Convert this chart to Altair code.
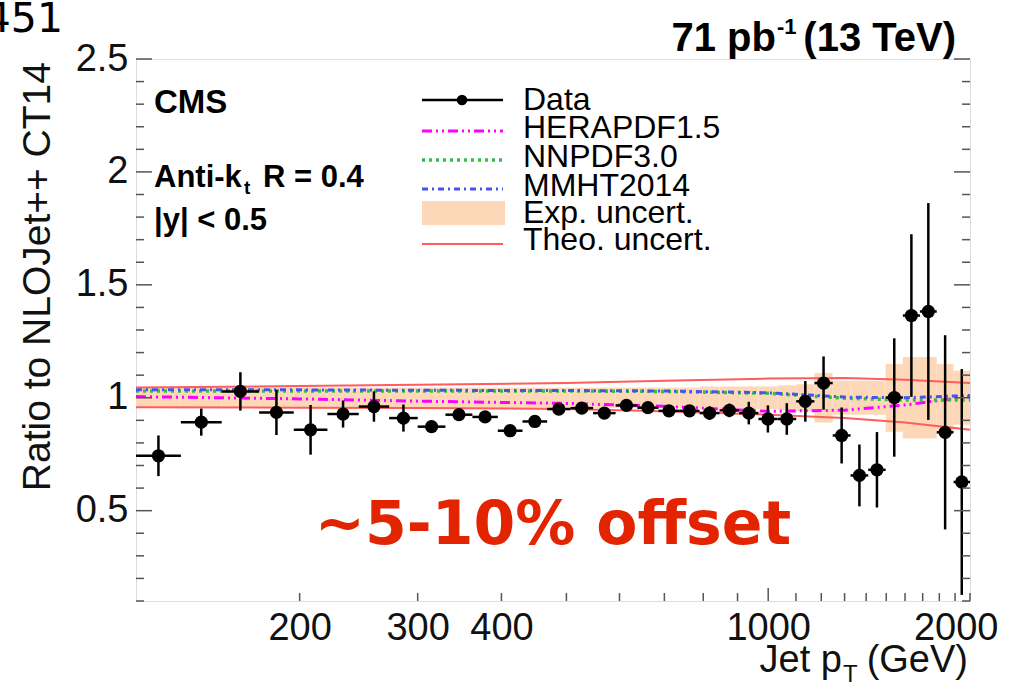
import math
import altair as alt
import pandas as pd

# ---------------- data ----------------
edges = [114, 133, 153, 174, 196, 220, 245, 272, 300, 330, 362, 395, 430, 468, 507,
         548, 592, 638, 686, 737, 790, 846, 905, 967, 1032, 1101, 1172, 1248, 1327,
         1410, 1497, 1588, 1684, 1784, 1890, 2000]
ratio = [0.743, 0.892, 1.028, 0.935, 0.858, 0.928, 0.961, 0.910, 0.872, 0.925,
         0.915, 0.854, 0.895, 0.950, 0.954, 0.932, 0.966, 0.956, 0.942, 0.942,
         0.932, 0.944, 0.932, 0.906, 0.906, 0.984, 1.065, 0.833, 0.656, 0.681,
         1.001, 1.364, 1.382, 0.847, 0.627]
stat_err = [0.09, 0.06, 0.085, 0.10, 0.11, 0.06, 0.067, 0.06, 0.015, 0.02,
            0.02, 0.02, 0.02, 0.02, 0.02, 0.02, 0.02, 0.02, 0.025, 0.025,
            0.03, 0.03, 0.05, 0.06, 0.07, 0.09, 0.118, 0.124, 0.137, 0.167,
            0.262, 0.36, 0.48, 0.43, 0.50]
exp_unc = [0.045, 0.045, 0.045, 0.045, 0.045, 0.045, 0.045, 0.045, 0.045, 0.045,
           0.045, 0.045, 0.045, 0.045, 0.045, 0.045, 0.045, 0.045, 0.045, 0.045,
           0.05, 0.05, 0.05, 0.05, 0.055, 0.06, 0.11, 0.075, 0.075, 0.075,
           0.15, 0.18, 0.18, 0.15, 0.12]

knots = [114, 200, 300, 500, 700, 1000, 1300, 1600, 2000]
herapdf = [1.005, 0.995, 0.985, 0.975, 0.962, 0.940, 0.945, 0.968, 1.005]
nnpdf = [1.030, 1.030, 1.030, 1.030, 1.028, 1.020, 0.998, 0.990, 0.990]
mmht = [1.035, 1.035, 1.033, 1.032, 1.030, 1.022, 1.003, 1.000, 1.010]
theo_up = [1.045, 1.052, 1.058, 1.065, 1.075, 1.085, 1.087, 1.080, 1.065]
theo_dn = [0.958, 0.956, 0.955, 0.950, 0.940, 0.925, 0.910, 0.890, 0.858]

y_labels = [0.5, 1.0, 1.5, 2.0, 2.5]
y_minor = [0.1, 0.2, 0.3, 0.4, 0.6, 0.7, 0.8, 0.9, 1.1, 1.2, 1.3, 1.4, 1.6, 1.7,
           1.8, 1.9, 2.1, 2.2, 2.3, 2.4]
x_labels = [200, 300, 400, 1000, 2000]
x_small = [200, 300, 400, 500, 600, 700, 800, 900, 1100, 1200, 1300, 1400, 1500,
           1600, 1700, 1800, 1900, 2000]
x_big = [1000]

# ---------------- layout ----------------
W, H = 834, 542
LEFT, TOP = 136, 59
FONT = "Liberation Sans"


def px(x):
    return x - LEFT


def py(y):
    return y - TOP


xs = alt.Scale(type="log", domain=[114, 2000], nice=False)
ys = alt.Scale(domain=[0.1, 2.5], nice=False, zero=False)
AX = alt.Axis(values=x_labels, format="d", ticks=False, domain=False, grid=False,
              labelFont=FONT, labelFontSize=38, labelColor="#111", labelPadding=8,
              labelFlush=True, labelFlushOffset=28)
AY = alt.Axis(values=y_labels, format="~g", ticks=False, domain=False, grid=False,
              labelFont=FONT, labelFontSize=38, labelColor="#111", labelPadding=8)


def X(field):
    return alt.X(field, scale=xs, axis=AX, title="")


def Y(field):
    return alt.Y(field, scale=ys, axis=AY, title="")


pts = pd.DataFrame({
    "lo": edges[:-1],
    "hi": edges[1:],
    "pt": [math.sqrt(a * b) for a, b in zip(edges[:-1], edges[1:])],
    "r": ratio,
    "err": stat_err,
    "exp": exp_unc,
})
pts["rlo"] = pts["r"] - pts["err"]
pts["rhi"] = pts["r"] + pts["err"]
pts["elo"] = 1 - pts["exp"]
pts["ehi"] = 1 + pts["exp"]

curves = pd.DataFrame({"pt": knots, "hera": herapdf, "nnpdf": nnpdf, "mmht": mmht,
                       "up": theo_up, "dn": theo_dn})

base = alt.Chart(pts)

band = base.mark_rect(color="#fdd8b8").encode(
    x=X("lo:Q"), x2="hi:Q", y=Y("elo:Q"), y2="ehi:Q")


def curve(field, color, dash, width):
    kw = dict(color=color, strokeWidth=width)
    if dash:
        kw["strokeDash"] = dash
    return alt.Chart(curves).mark_line(**kw).encode(x=X("pt:Q"), y=Y(f"{field}:Q"))


theo_u = curve("up", "#ff5c5c", None, 2)
theo_d = curve("dn", "#ff5c5c", None, 2)
c_hera = curve("hera", "#ff00ff", [10, 4, 2, 4, 2, 4], 3)
c_nn = curve("nnpdf", "#33c040", [3, 4], 3.5)
c_mm = curve("mmht", "#4455ee", [6, 4, 2, 4], 3)

vbar = base.mark_rule(color="black", strokeWidth=2.5).encode(
    x=X("pt:Q"), y=Y("rlo:Q"), y2="rhi:Q")
hbar = base.mark_rule(color="black", strokeWidth=2.5).encode(
    x=X("lo:Q"), x2="hi:Q", y=Y("r:Q"))
dots = base.mark_point(shape="circle", filled=True, size=175, color="black", opacity=1).encode(
    x=X("pt:Q"), y=Y("r:Q"))

# inward ticks (positions from the scales)
tick_col = "#555"


def yticks(values, length):
    d = alt.Chart(pd.DataFrame({"v": values}))
    left = d.mark_rule(color=tick_col, strokeWidth=1.5).encode(
        y=Y("v:Q"), x=alt.value(0), x2=alt.value(length))
    right = d.mark_rule(color=tick_col, strokeWidth=1.5).encode(
        y=Y("v:Q"), x=alt.value(W - length), x2=alt.value(W))
    return left + right


def xticks(values, length):
    d = alt.Chart(pd.DataFrame({"v": values}))
    return d.mark_rule(color=tick_col, strokeWidth=1.5).encode(
        x=X("v:Q"), y=alt.value(H), y2=alt.value(H - length))


def txt(s, x, y, size, font=FONT, weight="normal", align="left", baseline="alphabetic",
        color="black", angle=0):
    return alt.Chart(pd.DataFrame({"t": [s]})).mark_text(
        align=align, baseline=baseline, font=font, fontSize=size, fontWeight=weight,
        color=color, angle=angle).encode(text="t:N", x=alt.value(x), y=alt.value(y))


def lrule(y, color, dash, width):
    kw = dict(color=color, strokeWidth=width)
    if dash:
        kw["strokeDash"] = dash
    return alt.Chart(pd.DataFrame({"a": [0]})).mark_rule(**kw).encode(
        x=alt.value(px(422)), x2=alt.value(px(503)), y=alt.value(py(y)))


LY = [100, 128, 157, 186, 213, 240]   # legend row centres (image pixels)

legend_box = alt.Chart(pd.DataFrame({"a": [0]})).mark_rect(color="#fdd8b8").encode(
    x=alt.value(px(422)), x2=alt.value(px(505)), y=alt.value(py(LY[4] - 12)),
    y2=alt.value(py(LY[4] + 12)))
legend_dot = alt.Chart(pd.DataFrame({"a": [0]})).mark_point(
    shape="circle", filled=True, size=110, color="black", opacity=1).encode(
    x=alt.value(px(462)), y=alt.value(py(LY[0])))

LF = 32
legend = (
    lrule(LY[0], "black", None, 2.5) + legend_dot
    + lrule(LY[1] + 3, "#ff00ff", [10, 4, 2, 4, 2, 4], 3)
    + lrule(LY[2] + 3, "#33c040", [3, 4], 3.5)
    + lrule(LY[3] + 3, "#4455ee", [6, 4, 2, 4], 3)
    + legend_box
    + lrule(LY[5] + 4, "#ff5c5c", None, 2)
    + txt("Data", px(523), py(LY[0]), LF, baseline="middle")
    + txt("HERAPDF1.5", px(523), py(LY[1]), LF, baseline="middle")
    + txt("NNPDF3.0", px(523), py(LY[2]), LF, baseline="middle")
    + txt("MMHT2014", px(523), py(LY[3]), LF, baseline="middle")
    + txt("Exp. uncert.", px(523), py(LY[4]), LF, baseline="middle")
    + txt("Theo. uncert.", px(523), py(LY[5]), LF, baseline="middle")
)

labels = (
    txt("CMS", px(154), py(113), 33, weight="bold")
    + txt("Anti-k", px(154), py(187), 31, weight="bold")
    + txt("t", px(244), py(194), 19, weight="bold")
    + txt("R = 0.4", px(263), py(187), 31, weight="bold")
    + txt("|y| < 0.5", px(154), py(230), 31, weight="bold")
    + txt("71 pb", px(776), py(51), 40, weight="bold", align="right")
    + txt("-1", px(777), py(34), 22, weight="bold")
    + txt("(13 TeV)", px(956), py(51), 40, weight="bold", align="right")
    + txt("Ratio to NLOJet++ CT14", px(38), py(62), 39, align="right", baseline="middle",
          angle=270, color="#111")
    + txt("Jet p", px(842), py(672), 38, align="right", color="#111")
    + txt("T", px(843), py(682), 24, color="#111")
    + txt("(GeV)", px(968), py(672), 38, align="right", color="#111")
    + txt("451", px(63), py(32), 41, font="DejaVu Sans", align="right")
    + txt("~5-10% offset", px(553), py(544), 60, font="DejaVu Sans", weight="bold",
          align="center", color="#e32400")
)

chart = alt.layer(
    band, theo_u, theo_d, c_hera, c_nn, c_mm,
    vbar, hbar, dots,
    yticks(y_labels, 16), yticks(y_minor, 8),
    xticks(x_small, 8), xticks(x_big, 13),
    legend, labels,
).properties(
    width=W, height=H,
    autosize=alt.AutoSizeParams(type="none"),
    padding={"left": LEFT, "top": TOP, "right": 1011 - LEFT - W, "bottom": 689 - TOP - H},
).configure_view(stroke="#666", strokeWidth=2).configure(background="white")

chart.save("out.html", embed_options={"renderer": "svg", "actions": False})
